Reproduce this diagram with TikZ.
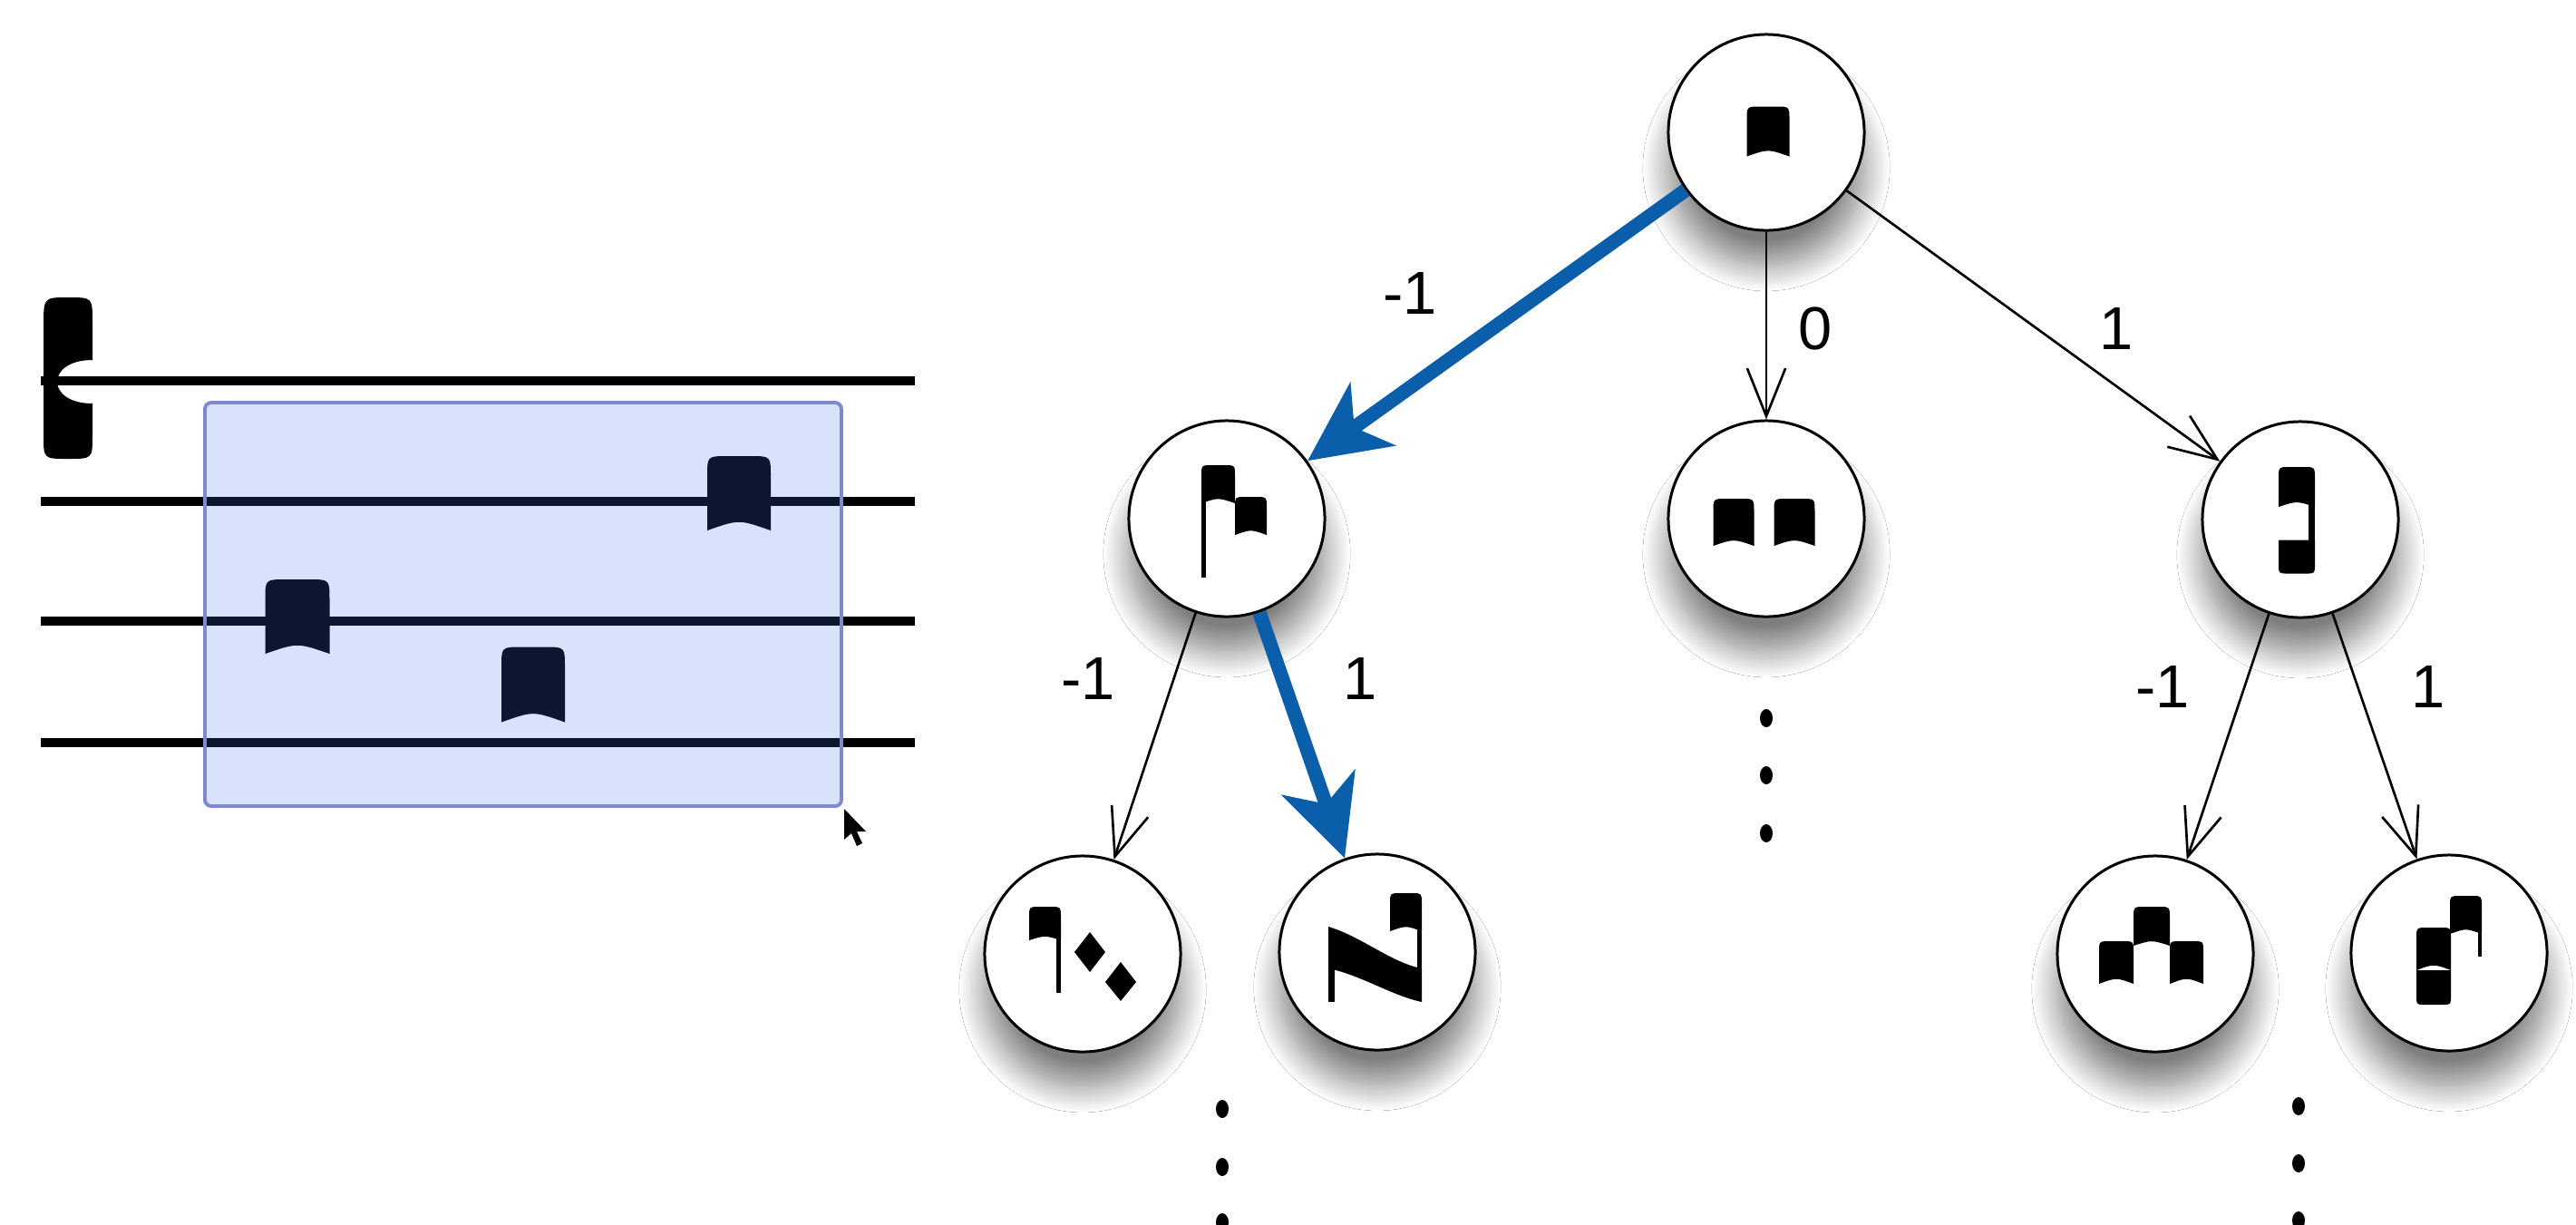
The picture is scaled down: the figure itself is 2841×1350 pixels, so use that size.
\documentclass[tikz,border=0pt]{standalone}
\usepackage{fontspec}
\setmainfont{Liberation Sans}
\usetikzlibrary{arrows.meta,shadows.blur}
\definecolor{pathblue}{RGB}{10,94,170}
\definecolor{selfill}{RGB}{60,110,235}
\definecolor{selborder}{RGB}{128,136,210}
% punctum: rounded top, concave bottom  (cx, cy, w, h)
\newcommand\gqpun[4]{%
 \pgfmathsetmacro\gqL{#1-#3/2}%
 \pgfmathsetmacro\gqR{#1+#3/2}%
 \pgfmathsetmacro\gqT{#2-#4/2}%
 \pgfmathsetmacro\gqB{#2+#4/2}%
 \pgfmathsetmacro\gqTr{#2-#4/2+#3*0.32}%
 \pgfmathsetmacro\gqLr{#1-#3/2+#3*0.32}%
 \pgfmathsetmacro\gqRr{#1+#3/2-#3*0.32}%
 \pgfmathsetmacro\gqBd{#2+#4/2-#4*0.15}%
 \fill (\gqL,\gqB) -- (\gqL,\gqTr) .. controls (\gqL,\gqT) .. (\gqLr,\gqT) -- (\gqRr,\gqT) .. controls (\gqR,\gqT) .. (\gqR,\gqTr) -- (\gqR,\gqB) .. controls (#1,\gqBd) .. (\gqL,\gqB) -- cycle;}
% block: flat top, rounded bottom (cx, cy, w, h)
\newcommand\gqbot[4]{%
 \pgfmathsetmacro\gqL{#1-#3/2}%
 \pgfmathsetmacro\gqR{#1+#3/2}%
 \pgfmathsetmacro\gqT{#2-#4/2}%
 \pgfmathsetmacro\gqB{#2+#4/2}%
 \pgfmathsetmacro\gqBr{#2+#4/2-#3*0.25}%
 \pgfmathsetmacro\gqLr{#1-#3/2+#3*0.25}%
 \pgfmathsetmacro\gqRr{#1+#3/2-#3*0.25}%
 \fill (\gqL,\gqT) -- (\gqR,\gqT) -- (\gqR,\gqBr) .. controls (\gqR,\gqB) .. (\gqRr,\gqB) -- (\gqLr,\gqB) .. controls (\gqL,\gqB) .. (\gqL,\gqBr) -- cycle;}
\begin{document}
\begin{tikzpicture}[x=0.01cm,y=-0.01cm,
 state/.style={circle,draw=black,line width=0.85pt,fill=white,minimum size=2.16cm,inner sep=0pt,
   blur shadow={shadow xshift=0pt,shadow yshift=-11pt,shadow blur radius=8pt,shadow blur steps=24,shadow opacity=50}},
 move/.style={line width=0.75pt,-{Straight Barb[length=15pt,width=12pt]}},
 chosen/.style={line width=4.4pt,draw=pathblue,-{Stealth[length=25pt,width=24pt,inset=7pt]}},
 lab/.style={font=\fontsize{19}{22}\selectfont,inner sep=0pt},
 staffline/.style={line width=2.6pt}
]
\useasboundingbox (0,0) rectangle (2841,1350);
\fill[white] (0,0) rectangle (2841,1350);

% ---------- staff ----------
\fill (48,360) .. controls (48,328) .. (75,328) .. controls (102,328) .. (102,355) -- (102,397)
  .. controls (50,397) and (50,445) .. (102,445) -- (102,480) .. controls (102,506) .. (75,506)
  .. controls (48,506) .. (48,480) -- cycle;
\foreach \yy in {420,553,685,819} \draw[staffline] (45,\yy) -- (1009,\yy);
\gqpun{328}{680}{71}{82}
\gqpun{588}{755}{70}{83}
\gqpun{815}{544}{70}{82}
\fill[selfill,fill opacity=0.2,rounded corners=2pt] (226,444) rectangle (928,889);
\draw[selborder,line width=1.1pt,rounded corners=2pt] (226,444) rectangle (928,889);
\fill (931,892) -- ++(0,34) -- ++(8,-7) -- ++(6,14) -- ++(6,-3) -- ++(-6,-13) -- ++(10,0) -- cycle;

% ---------- tree nodes ----------
\node[state] (root) at (1948,146) {};
\node[state] (L1) at (1353,572) {};
\node[state] (M1) at (1948,572) {};
\node[state] (R1) at (2537,573) {};
\node[state] (LL2) at (1194,1052) {};
\node[state] (LR2) at (1519,1050) {};
\node[state] (RL2) at (2377,1052) {};
\node[state] (RR2) at (2701,1051) {};

% ---------- connectors ----------
\draw[chosen] (root) -- (L1);
\draw[move] (root) -- (M1);
\draw[move] (root) -- (R1);
\draw[move] (L1) -- (LL2);
\draw[chosen] (L1) -- (LR2);
\draw[move] (R1) -- (RL2);
\draw[move] (R1) -- (RR2);

% ---------- labels ----------
\node[lab] (t1) at (1555,323) {-1};
\node[lab] (t2) at (2002,362) {0};
\node[lab] (t3) at (2334,362) {1};
\node[lab] (t4) at (1200,748) {-1};
\node[lab] (t5) at (1500,748) {1};
\node[lab] (t6) at (2385,757) {-1};
\node[lab] (t7) at (2678,757) {1};

% ---------- continuation dots ----------
\foreach \xx/\yy in {1948/792,1948/855,1948/919,1348/1223,1348/1287,1348/1348,2535/1220,2535/1283,2535/1346}
  \fill (\xx,\yy) ellipse [x radius=7,y radius=10];

% ---------- glyphs in nodes ----------
% root
\gqpun{1950}{145}{47}{55}
% M1
\gqpun{1912}{576}{45}{52}
\gqpun{1979}{576}{45}{52}
% R1
\gqpun{2533}{537}{40}{44}
\gqbot{2533}{614}{40}{37}
\fill (2546,550) rectangle (2553,600);
% L1
\fill (1325,520) rectangle (1330,637);
\gqpun{1343.5}{534}{37}{42}
\gqpun{1379.5}{569}{35}{42}
% LL2
\gqpun{1152.5}{1018.5}{35}{37}
\fill (1165,1025) rectangle (1170,1095);
\fill (1185,1050) -- (1202,1028) -- (1219,1050) -- (1202,1072) -- cycle;
\fill (1219,1083) -- (1236,1061) -- (1253,1083) -- (1236,1104) -- cycle;
% LR2
\fill (1465,1030) rectangle (1472,1105);
\fill (1465,1022) .. controls (1500,1032) and (1535,1062) .. (1568,1068) -- (1568,1105)
  .. controls (1535,1098) and (1500,1075) .. (1465,1068) -- cycle;
\gqpun{1550.5}{1006}{35}{42}
\fill (1563,1020) rectangle (1568,1080);
% RL2
\gqpun{2334}{1061.5}{38}{47}
\gqpun{2411.5}{1061.5}{37}{47}
\gqpun{2373}{1021.5}{40}{43}
% RR2
\gqpun{2684}{1046.5}{38}{47}
\gqbot{2684}{1089}{38}{38}
\gqpun{2719.5}{1009}{35}{42}
\fill (2733,1020) rectangle (2737,1055);
\end{tikzpicture}
\end{document}
